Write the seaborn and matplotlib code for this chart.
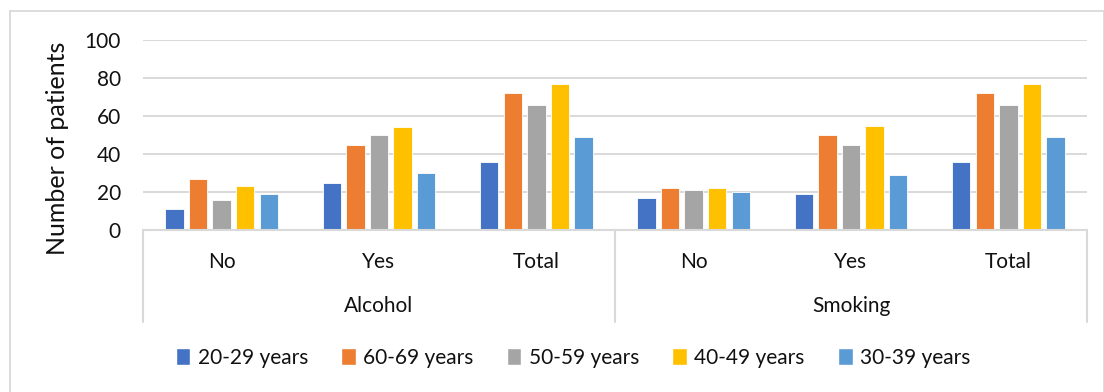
import matplotlib
matplotlib.use("Agg")
import matplotlib.pyplot as plt
import matplotlib.patches as mpatches
import matplotlib.transforms as mtransforms
import seaborn as sns
import pandas as pd

groups = ["Alcohol", "Smoking"]
subcats = ["No", "Yes", "Total"]
age_groups = ["20-29 years", "60-69 years", "50-59 years", "40-49 years", "30-39 years"]
colors = ["#4472C4", "#ED7D31", "#A5A5A5", "#FFC000", "#5B9BD5"]

alcohol_no = [11, 27, 16, 23, 19]
alcohol_yes = [25, 45, 50, 54, 30]
alcohol_total = [36, 72, 66, 77, 49]
smoking_no = [17, 22, 21, 22, 20]
smoking_yes = [19, 50, 45, 55, 29]
smoking_total = [36, 72, 66, 77, 49]

yticks = [0, 20, 40, 60, 80, 100]

series = {
    ("Alcohol", "No"): alcohol_no,
    ("Alcohol", "Yes"): alcohol_yes,
    ("Alcohol", "Total"): alcohol_total,
    ("Smoking", "No"): smoking_no,
    ("Smoking", "Yes"): smoking_yes,
    ("Smoking", "Total"): smoking_total,
}

rows = []
order = []
for g in groups:
    for s in subcats:
        key = f"{g}|{s}"
        order.append(key)
        for age, v in zip(age_groups, series[(g, s)]):
            rows.append({"cat": key, "age": age, "value": v})
df = pd.DataFrame(rows)

sns.set_theme(style="white")
plt.rcParams["font.family"] = ["Lato", "DejaVu Sans"]

W, H = 1104, 392
fig = plt.figure(figsize=(W / 100, H / 100), dpi=100)
x0, x1, ytop, ybot = 143, 1087, 40, 230
ax = fig.add_axes([x0 / W, 1 - ybot / H, (x1 - x0) / W, (ybot - ytop) / H])

sns.barplot(data=df, x="cat", y="value", hue="age", order=order,
            hue_order=age_groups, palette=colors, saturation=1, width=0.75, gap=0.22,
            edgecolor="white", linewidth=0.6, ax=ax, legend=False)

ax.set_ylim(0, 100)
ax.set_xlim(-0.5, len(order) - 0.5)
ax.set_yticks(yticks)
ax.set_yticklabels([str(t) for t in yticks], fontsize=15, color="#111111")
ax.tick_params(axis="y", length=0, pad=16)
ax.set_xticks([])
ax.set_xlabel("")
ax.set_ylabel("Number of patients", fontsize=18, color="#111111")
ax.yaxis.set_label_coords(-0.078, 0.43)
for sp in ax.spines.values():
    sp.set_visible(False)
ax.yaxis.grid(True, color="#D9D9D9", linewidth=1.4)
ax.set_axisbelow(True)

trans = mtransforms.blended_transform_factory(ax.transData, ax.transAxes)
line_col = "#D9D9D9"
ax.plot([-0.5, len(order) - 0.5], [0, 0], transform=trans, color=line_col,
        lw=1.5, clip_on=False)
yb = -(322 - ybot) / (ybot - ytop)
for xv in [-0.5, 2.5, 5.5]:
    ax.plot([xv, xv], [0, yb], transform=trans, color=line_col, lw=1.5,
            clip_on=False)

y_sub = -(262 - ybot) / (ybot - ytop)
y_grp = -(306 - ybot) / (ybot - ytop)
for i, key in enumerate(order):
    ax.text(i, y_sub, key.split("|")[1], transform=trans, ha="center",
            va="center", fontsize=15, color="#111111")
for j, g in enumerate(groups):
    ax.text(1 + 3 * j, y_grp, g, transform=trans, ha="center", va="center",
            fontsize=15, color="#111111")

# chart border
fig.patches.append(mpatches.Rectangle((10 / W, -0.05), (1104 - 10) / W, 1 - 11 / H + 0.05,
                                      transform=fig.transFigure, fill=False,
                                      edgecolor="#D9D9D9", linewidth=1.3))

handles = [mpatches.Patch(facecolor=c, label=a) for a, c in zip(age_groups, colors)]
fig.legend(handles=handles, loc="center", bbox_to_anchor=(573 / W, 1 - 358 / H),
           ncol=5, frameon=False, fontsize=15, handlelength=0.7, handleheight=0.9,
           handletextpad=0.35, columnspacing=1.6, labelcolor="#111111")

fig.savefig("out.png", dpi=100)
